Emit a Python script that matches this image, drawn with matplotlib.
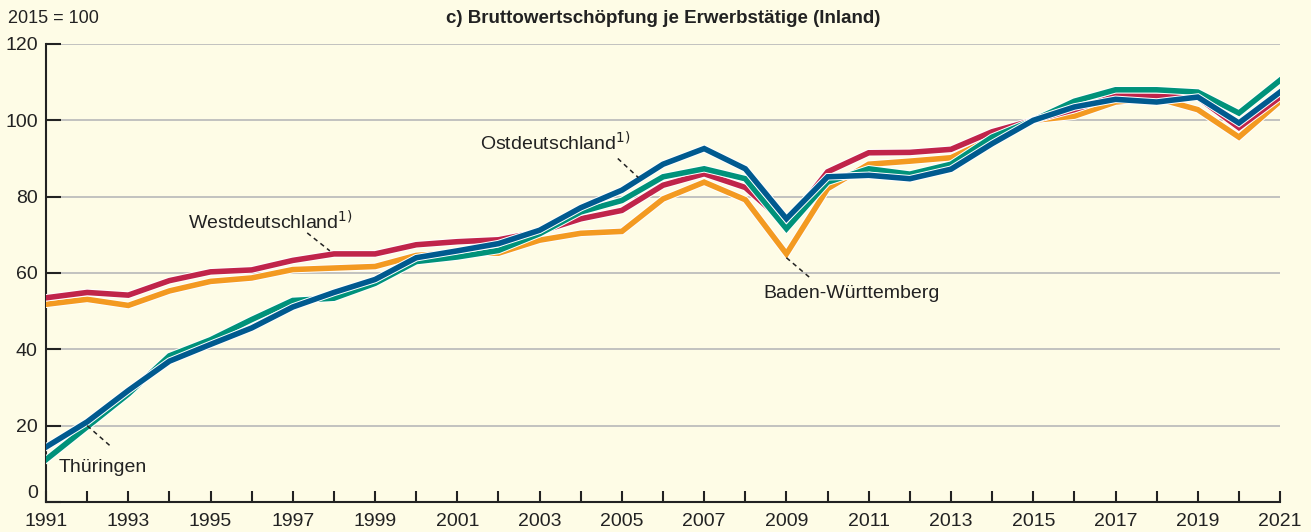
import matplotlib
matplotlib.use("Agg")
import matplotlib.pyplot as plt
import matplotlib.patheffects as pe

# Data (2015 = 100)
years = list(range(1991, 2022))
west = [53.5, 54.9, 54.2, 58.0, 60.3, 60.8, 63.3, 65.0, 65.0, 67.4, 68.2, 68.7, 70.8, 74.2, 76.4,
        83.0, 86.0, 82.4, 72.8, 86.5, 91.5, 91.6, 92.4, 97.0, 100.0, 102.8, 106.4, 106.3, 106.0, 98.1, 106.1]
bw = [51.8, 53.1, 51.5, 55.3, 57.8, 58.7, 60.9, 61.3, 61.7, 64.6, 65.3, 65.2, 68.6, 70.4, 70.9,
      79.4, 83.8, 79.2, 65.0, 82.1, 88.5, 89.3, 90.2, 95.3, 100.0, 101.1, 104.8, 105.8, 102.8, 95.6, 105.0]
thueringen = [11.1, 19.7, 28.3, 38.3, 42.5, 47.8, 52.8, 53.4, 57.3, 63.0, 64.2, 65.9, 70.3, 76.0, 79.0,
              85.2, 87.3, 84.7, 71.6, 83.8, 87.3, 85.9, 88.5, 95.6, 100.0, 105.0, 108.0, 108.0, 107.4, 101.9, 110.5]
ost = [14.4, 21.0, 29.2, 36.9, 41.3, 45.6, 51.1, 54.9, 58.3, 64.0, 65.8, 67.7, 71.2, 77.1, 81.7,
       88.5, 92.6, 87.3, 74.2, 85.2, 85.6, 84.7, 87.2, 93.9, 100.0, 103.5, 105.5, 104.8, 106.1, 99.3, 107.4]

bg = "#fefce6"
plt.rcParams["font.family"] = ["Liberation Sans", "DejaVu Sans"]

fig = plt.figure(figsize=(13.11, 5.32), dpi=100, facecolor=bg)
ax = fig.add_axes([0.0351, 0.0564, 0.9413, 0.8609], facecolor=bg)

series = [(bw, "#f39a21"), (west, "#c0244a"), (thueringen, "#00927a"), (ost, "#005a8f")]
for vals, col in series:
    ax.plot(years, vals, color=col, lw=4.0, solid_joinstyle="miter", zorder=3,
            path_effects=[pe.Stroke(linewidth=5.4, foreground="white"), pe.Normal()])

ax.set_xlim(1991, 2021)
ax.set_ylim(0, 120)
ax.set_yticks(range(0, 121, 20))
ax.set_xticks(years)
ax.set_xticklabels([str(y) if (y - 1991) % 2 == 0 else "" for y in years])
ax.grid(axis="y", color="#bdbdbd", lw=1.3, zorder=1)
for s in ["top", "right"]:
    ax.spines[s].set_visible(False)
for s in ["left", "bottom"]:
    ax.spines[s].set_color("#222222")
    ax.spines[s].set_linewidth(1.5)
ax.tick_params(axis="x", direction="in", length=8, width=1.5, color="#222222",
               labelsize=14, labelcolor="#222222", pad=8)
ax.tick_params(axis="y", direction="in", length=11, width=1.5, color="#222222",
               labelsize=14, labelcolor="#222222", pad=6)
ax.get_yticklabels()[0].set_va("bottom")

fig.text(0.006, 0.965, "2015 = 100", fontsize=13, color="#222222", va="center")
fig.text(0.506, 0.965, "c) Bruttowertschöpfung je Erwerbstätige (Inland)", fontsize=13.5,
         fontweight="bold", color="#222222", ha="center", va="center")

# Labels with dashed leaders
lab = dict(fontsize=14, color="#222222", va="center")
leader = dict(ls=(0, (3, 2.5)), color="#222222", lw=1.1, zorder=4)
ax.text(1994.45, 73.5, "Westdeutschland$^{1)}$", **lab)
ax.plot([1997.35, 1997.9], [70.5, 65.8], **leader)
ax.text(2001.55, 94.2, "Ostdeutschland$^{1)}$", **lab)
ax.plot([2004.9, 2005.4], [90.0, 85.0], **leader)
ax.text(2008.45, 54.5, "Baden-Württemberg", **lab)
ax.plot([2009.0, 2009.6], [64.0, 58.5], **leader)
ax.text(1991.3, 9.0, "Thüringen", **lab)
ax.plot([1992.0, 1992.55], [20.0, 14.8], **leader)

fig.savefig("out.png", dpi=100, facecolor=bg)
